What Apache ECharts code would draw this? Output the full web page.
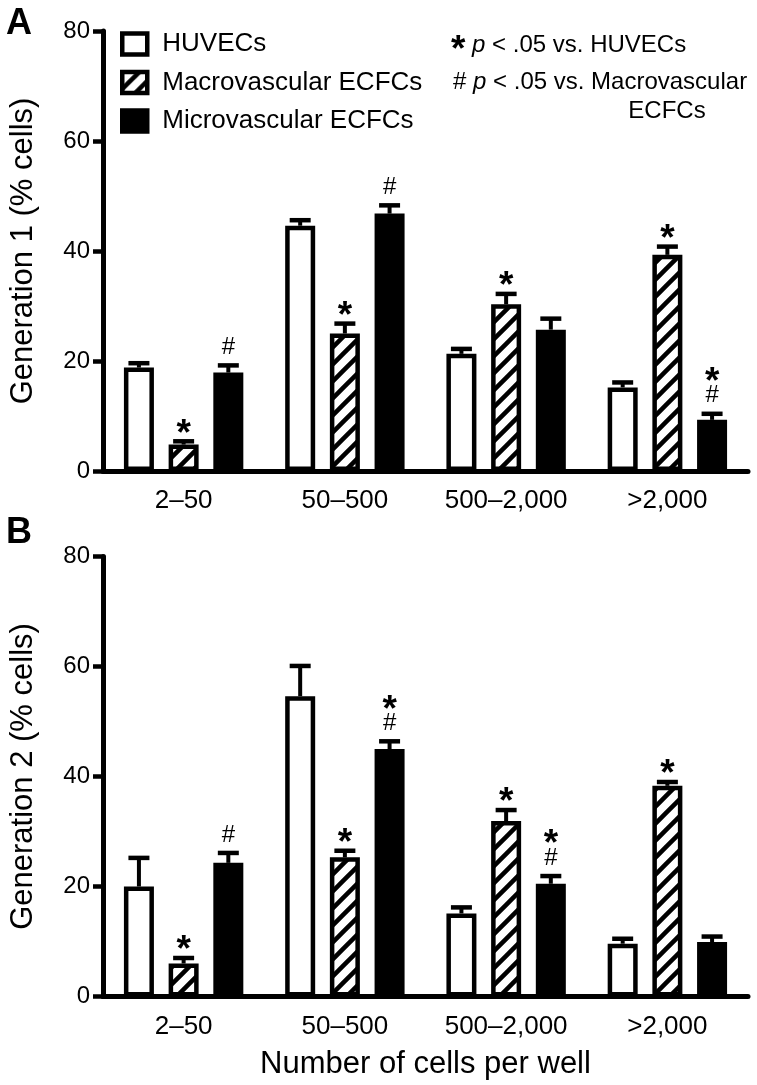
<!DOCTYPE html>
<html>
<head>
<meta charset="utf-8">
<script src="https://cdn.jsdelivr.net/npm/echarts@6/dist/echarts.min.js"></script>
<style>
html,body{margin:0;padding:0;background:#fff;}
#chart{width:757px;height:1085px;}
</style>
</head>
<body>
<div id="chart"></div>
<script>
// ---- data ----
const categories = ['2–50', '50–500', '500–2,000', '>2,000'];
const seriesNames = ['HUVECs', 'Macrovascular ECFCs', 'Microvascular ECFCs'];
const yTicks = [0, 20, 40, 60, 80];

const gen1Huvec = [18.8, 44.6, 21.3, 15.2];
const gen1HuvecErr = [0.8, 1.0, 0.9, 0.9];
const gen1Macro = [4.8, 25.0, 30.3, 39.3];
const gen1MacroErr = [0.6, 1.8, 1.9, 1.5];
const gen1Micro = [17.9, 46.8, 25.7, 9.3];
const gen1MicroErr = [1.3, 1.5, 2.0, 1.1];

const gen2Huvec = [20.0, 54.6, 15.1, 9.6];
const gen2HuvecErr = [5.2, 5.5, 1.1, 0.9];
const gen2Macro = [6.0, 25.3, 31.9, 38.3];
const gen2MacroErr = [1.0, 1.2, 2.0, 0.7];
const gen2Micro = [24.3, 45.0, 20.5, 9.9];
const gen2MicroErr = [1.8, 1.4, 1.4, 1.0];

// significance marks ('*' vs HUVECs, '#' vs Macrovascular)
const gen1MarksHuvec = ['', '', '', ''];
const gen1MarksMacro = ['*', '*', '*', '*'];
const gen1MarksMicro = ['#', '#', '', '*#'];
const gen2MarksHuvec = ['', '', '', ''];
const gen2MarksMacro = ['*', '*', '*', '*'];
const gen2MarksMicro = ['#', '*#', '*#', ''];

// ---- style ----
const FONT = '"Liberation Sans", Arial, Helvetica, sans-serif';
const BAR_W = 30;
const GAP = 0.49;
const PITCH = BAR_W * (1 + GAP);
const LW = 4.5;

function makeHatch() {
  const c = document.createElement('canvas');
  c.width = 17; c.height = 17;
  const g = c.getContext('2d');
  g.fillStyle = '#fff';
  g.fillRect(0, 0, 17, 17);
  g.strokeStyle = '#000';
  g.lineWidth = 4.5;
  g.beginPath();
  g.moveTo(-4, 21); g.lineTo(21, -4);
  g.moveTo(-4, 4); g.lineTo(4, -4);
  g.moveTo(13, 21); g.lineTo(21, 13);
  g.stroke();
  return c;
}
const hatch = { image: makeHatch(), repeat: 'repeat' };
const fills = ['#ffffff', hatch, '#000000'];

function barSeries(gi, k, vals) {
  return {
    name: seriesNames[k], type: 'bar', xAxisIndex: gi, yAxisIndex: gi,
    data: vals, barWidth: BAR_W, barGap: (GAP * 100) + '%',
    itemStyle: { color: fills[k], borderColor: '#000', borderWidth: LW },
    emphasis: { disabled: true }, silent: true, z: 2
  };
}

function errSeries(gi, k, vals, errs, marks) {
  return {
    type: 'custom', xAxisIndex: gi, yAxisIndex: gi, z: 5, silent: true,
    data: vals.map((v, i) => [i, v, errs[i]]),
    encode: { x: 0, y: 1 },
    renderItem: function (params, api) {
      const i = api.value(0), v = api.value(1), e = api.value(2);
      const m = marks[params.dataIndex];
      const base = api.coord([i, v]);
      const top = api.coord([i, v + e]);
      const x = base[0] + (k - 1) * PITCH;
      const ch = [
        { type: 'line', shape: { x1: x, y1: base[1], x2: x, y2: top[1] }, style: { stroke: '#000', lineWidth: 4 } },
        { type: 'line', shape: { x1: x - 10.5, y1: top[1], x2: x + 10.5, y2: top[1] }, style: { stroke: '#000', lineWidth: 4.5 } }
      ];
      const hasHash = m.indexOf('#') >= 0, hasStar = m.indexOf('*') >= 0;
      if (hasHash) {
        ch.push({ type: 'text', x: x, y: top[1] - 18, style: { text: '#', font: '24px ' + FONT, fill: '#000', align: 'center', verticalAlign: 'middle' } });
      }
      if (hasStar) {
        const cy = top[1] - (hasHash ? 41 : 17);
        ch.push({ type: 'text', x: x, y: cy + 10, style: { text: '*', font: 'bold 37px ' + FONT, fill: '#000', align: 'center', verticalAlign: 'middle' } });
      }
      return { type: 'group', children: ch };
    }
  };
}

function xAxisOf(gi, withName) {
  const ax = {
    gridIndex: gi, type: 'category', data: categories,
    axisLine: { lineStyle: { color: '#000', width: 5 } },
    axisTick: { alignWithLabel: true, length: 11, lineStyle: { color: '#000', width: 4.5 } },
    axisLabel: { fontSize: 26, color: '#000', margin: 17, fontFamily: FONT }
  };
  if (withName) {
    ax.name = 'Number of cells per well';
    ax.nameLocation = 'middle';
    ax.nameGap = 52;
    ax.nameTextStyle = { fontSize: 31, color: '#000', fontFamily: FONT };
  }
  return ax;
}
function yAxisOf(gi, name) {
  return {
    gridIndex: gi, type: 'value', min: yTicks[0], max: yTicks[yTicks.length - 1], interval: 20,
    name: name, nameLocation: 'middle', nameGap: 64,
    nameTextStyle: { fontSize: 31, color: '#000', fontFamily: FONT },
    axisLine: { show: true, lineStyle: { color: '#000', width: 5 } },
    axisTick: { show: true, length: 10, lineStyle: { color: '#000', width: 4.5 } },
    axisLabel: { fontSize: 24, color: '#000', margin: 13, fontFamily: FONT },
    splitLine: { show: false }
  };
}

const chart = echarts.init(document.getElementById('chart'), null, { renderer: 'canvas' });
chart.setOption({
  backgroundColor: '#fff',
  animation: false,
  title: [
    { text: 'A', left: 1, top: 1, textStyle: { fontSize: 36, fontWeight: 'bold', color: '#000', fontFamily: FONT } },
    { text: 'B', left: 1, top: 510, textStyle: { fontSize: 36, fontWeight: 'bold', color: '#000', fontFamily: FONT } }
  ],
  grid: [
    { left: 91, top: 31, width: 657, height: 440 },
    { left: 91, top: 556.5, width: 657, height: 440 }
  ],
  legend: {
    orient: 'vertical', left: 120, top: 29, padding: 0, itemGap: 8.5,
    itemWidth: 25, itemHeight: 21, icon: 'rect',
    selectedMode: false,
    itemStyle: { borderColor: '#000', borderWidth: LW },
    textStyle: { fontSize: 26, color: '#000', fontFamily: FONT, lineHeight: 30, padding: [0, 0, 0, 10] },
    data: seriesNames
  },
  xAxis: [xAxisOf(0, false), xAxisOf(1, true)],
  yAxis: [yAxisOf(0, 'Generation 1 (% cells)'), yAxisOf(1, 'Generation 2 (% cells)')],
  graphic: [
    { type: 'text', left: 451, top: 32, style: {
      text: '{s|*}{i| p}{n| < .05 vs. HUVECs}',
      rich: { s: { font: 'bold 37px ' + FONT, fill: '#000', padding: [10, 0, 0, 0] }, i: { font: 'italic 24px ' + FONT, fill: '#000' }, n: { font: '24px ' + FONT, fill: '#000' } }
    } },
    { type: 'text', left: 453, top: 70, style: {
      text: '{n|# }{i|p}{n| < .05 vs. Macrovascular}',
      rich: { i: { font: 'italic 24px ' + FONT, fill: '#000' }, n: { font: '24px ' + FONT, fill: '#000' } }
    } },
    { type: 'text', x: 667, y: 111, style: { text: 'ECFCs', font: '24px ' + FONT, fill: '#000', align: 'center', verticalAlign: 'middle' } }
  ],
  series: [
    barSeries(0, 0, gen1Huvec), barSeries(0, 1, gen1Macro), barSeries(0, 2, gen1Micro),
    barSeries(1, 0, gen2Huvec), barSeries(1, 1, gen2Macro), barSeries(1, 2, gen2Micro),
    errSeries(0, 0, gen1Huvec, gen1HuvecErr, gen1MarksHuvec),
    errSeries(0, 1, gen1Macro, gen1MacroErr, gen1MarksMacro),
    errSeries(0, 2, gen1Micro, gen1MicroErr, gen1MarksMicro),
    errSeries(1, 0, gen2Huvec, gen2HuvecErr, gen2MarksHuvec),
    errSeries(1, 1, gen2Macro, gen2MacroErr, gen2MarksMacro),
    errSeries(1, 2, gen2Micro, gen2MicroErr, gen2MarksMicro)
  ]
});
</script>
</body>
</html>
